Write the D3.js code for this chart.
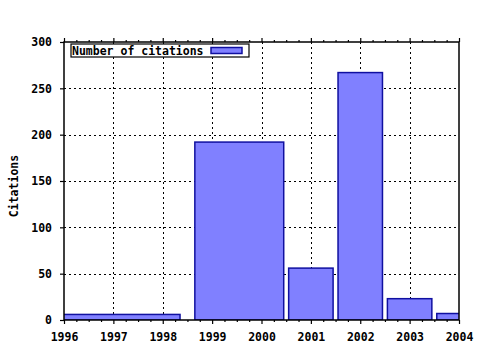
<!DOCTYPE html>
<html>
<head>
<meta charset="utf-8">
<script src="https://cdn.jsdelivr.net/npm/d3@7"></script>
<style>
  body { margin: 0; background: #fff; }
  svg { display: block; }
  text { font-family: "DejaVu Sans Mono", monospace; font-weight: bold; font-size: 11.5px; fill: #000; }
</style>
</head>
<body>
<svg id="chart" width="480" height="350"></svg>
<script>
// citations per bin: bin centre year, number of years in the bin, count
const binCenter = [1997, 1999.55, 2001, 2002, 2003, 2004];
const binYears  = [3, 2, 1, 1, 1, 1];
const citations = [6, 192, 56, 267, 23, 7];

const yearTicks = [1996, 1997, 1998, 1999, 2000, 2001, 2002, 2003, 2004];
const citationTicks = [0, 50, 100, 150, 200, 250, 300];

const plotL = 64, plotR = 459, plotT = 42, plotB = 320;
const boxFrac = 0.9;

const svg = d3.select("#chart");

const x = d3.scaleLinear().domain([1996, 2004]).range([plotL, plotR]);
const y = d3.scaleLinear().domain([0, 300]).range([plotB, plotT]);

// clip so the edge bars are cut at the frame
svg.append("clipPath").attr("id", "plotClip")
  .append("rect")
  .attr("x", plotL).attr("y", plotT)
  .attr("width", plotR - plotL).attr("height", plotB - plotT);

// dotted grid
const grid = svg.append("g").attr("stroke", "#000").attr("stroke-width", 1)
  .attr("stroke-dasharray", "2,3");
grid.selectAll("line.gx")
  .data(yearTicks.slice(1, -1))
  .enter().append("line")
  .attr("x1", d => Math.round(x(d)) + 0.5).attr("x2", d => Math.round(x(d)) + 0.5)
  .attr("y1", plotT).attr("y2", plotB);
grid.selectAll("line.gy")
  .data(citationTicks.slice(1, -1))
  .enter().append("line")
  .attr("y1", d => Math.round(y(d)) + 0.5).attr("y2", d => Math.round(y(d)) + 0.5)
  .attr("x1", plotL).attr("x2", plotR);

// bars
const bins = binCenter.map((c, i) => ({ center: c, years: binYears[i], value: citations[i] }));
svg.append("g").attr("clip-path", "url(#plotClip)")
  .selectAll("rect")
  .data(bins)
  .enter().append("rect")
  .attr("x", d => x(d.center - boxFrac * d.years / 2))
  .attr("width", d => x(d.center + boxFrac * d.years / 2) - x(d.center - boxFrac * d.years / 2))
  .attr("y", d => y(d.value))
  .attr("height", d => y(0) - y(d.value))
  .attr("fill", "#8080ff")
  .attr("stroke", "#1010a0")
  .attr("stroke-width", 1.5);

// axes
const minorYears = d3.range(1996, 2004.001, 0.25).filter(v => Math.abs(v - Math.round(v)) > 0.01);

svg.append("g").attr("transform", `translate(0,${plotB})`)
  .call(d3.axisBottom(x).tickValues(yearTicks).tickFormat(d3.format("d"))
    .tickSize(4).tickSizeOuter(0).tickPadding(9));
svg.append("g").attr("transform", `translate(0,${plotB})`)
  .call(d3.axisBottom(x).tickValues(minorYears).tickFormat("").tickSize(2).tickSizeOuter(0));
svg.append("g").attr("transform", `translate(0,${plotT})`)
  .call(d3.axisTop(x).tickValues(yearTicks).tickFormat("").tickSize(4).tickSizeOuter(0));
svg.append("g").attr("transform", `translate(0,${plotT})`)
  .call(d3.axisTop(x).tickValues(minorYears).tickFormat("").tickSize(2).tickSizeOuter(0));
svg.append("g").attr("transform", `translate(${plotL},0)`)
  .call(d3.axisLeft(y).tickValues(citationTicks).tickSize(4).tickSizeOuter(0).tickPadding(8));

svg.selectAll(".domain").remove();
svg.selectAll(".tick line").attr("stroke", "#000").attr("stroke-width", 1.2);
svg.selectAll(".tick text").style("font-family", "DejaVu Sans Mono, monospace")
  .style("font-weight", "bold").style("font-size", "11.5px");

// frame
svg.append("rect")
  .attr("x", plotL).attr("y", plotT)
  .attr("width", plotR - plotL).attr("height", plotB - plotT)
  .attr("fill", "none").attr("stroke", "#000").attr("stroke-width", 1.5);

// y label
svg.append("text")
  .attr("transform", "translate(18,186) rotate(-90)")
  .attr("text-anchor", "middle")
  .text("Citations");

// legend
const legend = svg.append("g");
legend.append("rect")
  .attr("x", 71).attr("y", 44).attr("width", 178).attr("height", 13)
  .attr("fill", "#fff").attr("stroke", "#000").attr("stroke-width", 1.2);
legend.append("text").attr("x", 72).attr("y", 55).text("Number of citations");
legend.append("rect")
  .attr("x", 211).attr("y", 47.5).attr("width", 31).attr("height", 6)
  .attr("fill", "#8080ff").attr("stroke", "#1010a0").attr("stroke-width", 1.5);
</script>
</body>
</html>
